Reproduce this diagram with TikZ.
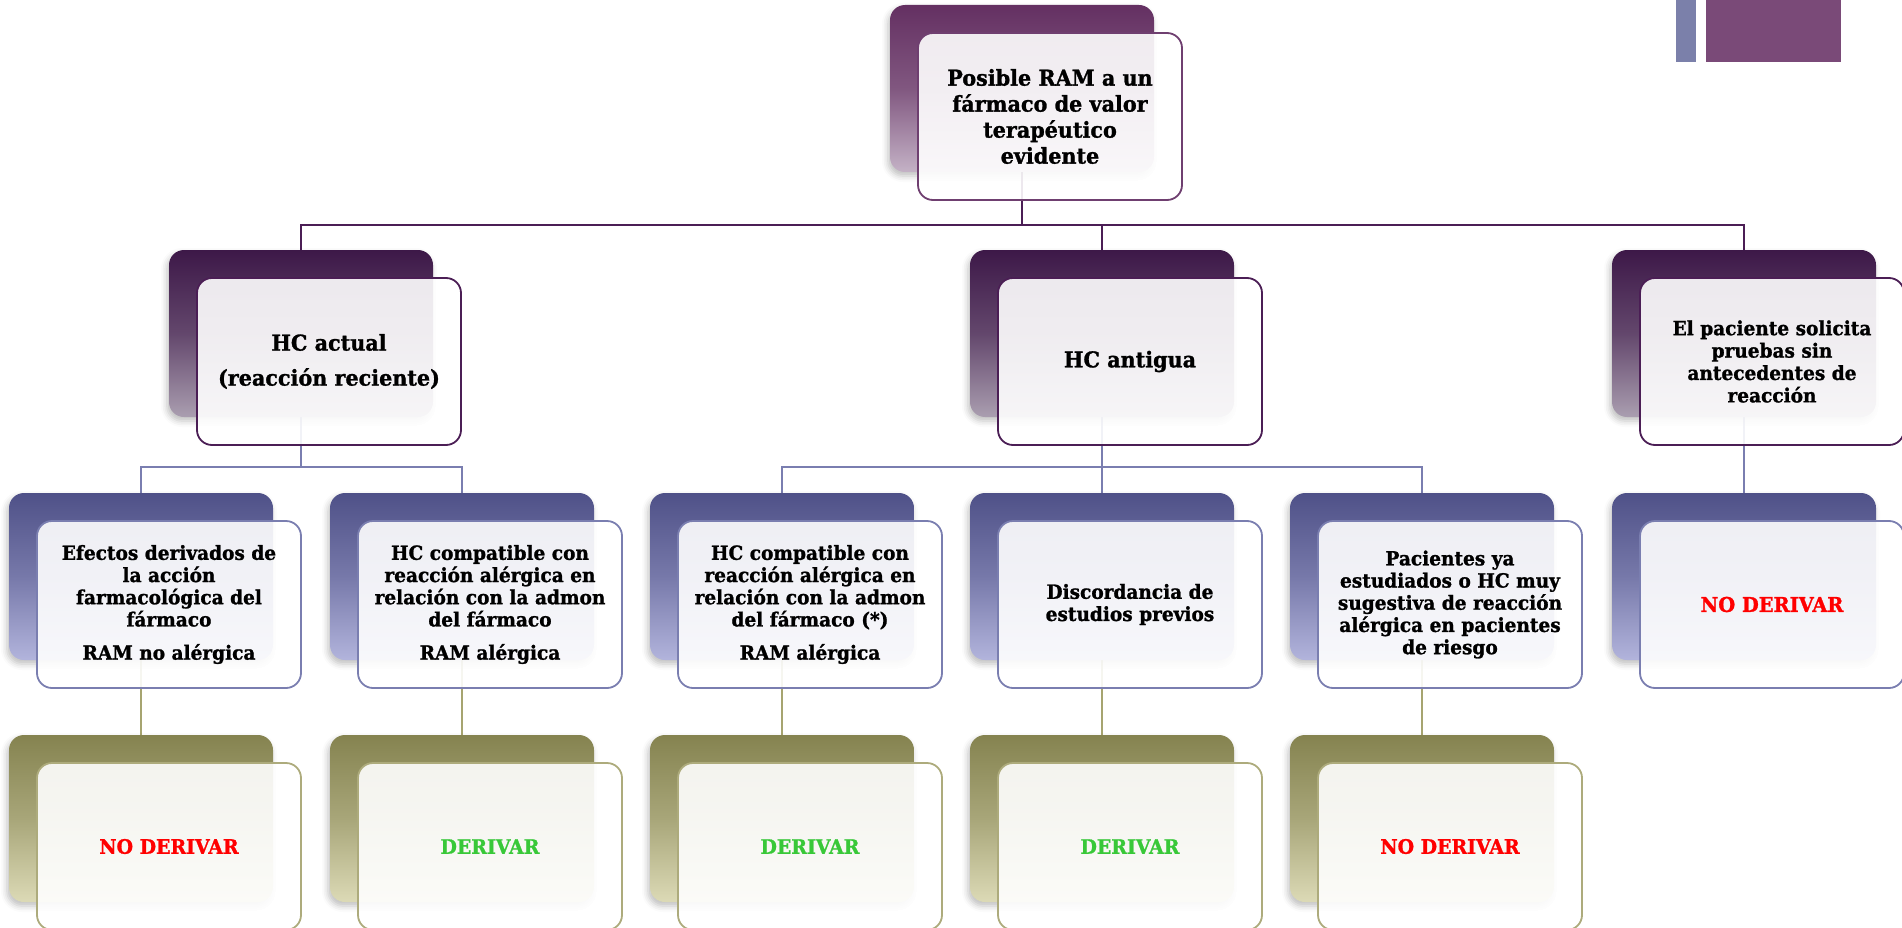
\documentclass[tikz,border=0pt]{standalone}
\usepackage{fontspec}
\setmainfont{DejaVu Serif}[FakeStretch=0.95, BoldFeatures={FakeBold=1.2}]
\usetikzlibrary{shadows.blur}

\definecolor{rootTop}{HTML}{643062}
\definecolor{rootBot}{HTML}{C4B2C6}
\definecolor{rootLine}{HTML}{6F3F70}
\definecolor{twoTop}{HTML}{3D1848}
\definecolor{twoBot}{HTML}{AA9EB0}
\definecolor{twoLine}{HTML}{4B1E55}
\definecolor{threeTop}{HTML}{4F5188}
\definecolor{threeBot}{HTML}{B2B4DC}
\definecolor{threeLine}{HTML}{7A7EB0}
\definecolor{fourTop}{HTML}{858350}
\definecolor{fourBot}{HTML}{DCDAB6}
\definecolor{fourLine}{HTML}{ADAB7C}
\definecolor{fourLink}{HTML}{A6A470}
\definecolor{noRed}{HTML}{FF0000}
\definecolor{yesGreen}{HTML}{38C838}
\definecolor{tabBlue}{HTML}{7B80AA}
\definecolor{tabPurple}{HTML}{7A4A78}

\pgfdeclarelayer{bg}
\pgfsetlayers{bg,main}

\tikzset{
  cardbase/.style={rectangle, rounded corners=15pt, minimum width=264pt,
    minimum height=167pt, inner sep=0pt, outer sep=0pt, anchor=north west},
  backbox/.style={cardbase, draw=none,
    blur shadow={shadow xshift=-2pt, shadow yshift=-4pt,
      shadow blur radius=6pt, shadow opacity=25}},
  back1/.style={backbox, top color=rootTop, bottom color=rootBot, middle color=rootTop!70!rootBot},
  back2/.style={backbox, top color=twoTop, bottom color=twoBot, middle color=twoTop!65!twoBot},
  back3/.style={backbox, top color=threeTop, bottom color=threeBot, middle color=threeTop!60!threeBot},
  back4/.style={backbox, top color=fourTop, bottom color=fourBot, middle color=fourTop!60!fourBot},
  frontbox/.style={cardbase, fill=white, fill opacity=0.9, text opacity=1,
    line width=1.8pt, align=center, text width=256pt},
  front1/.style={frontbox, draw=rootLine,
    font=\fontsize{21.8pt}{26pt}\selectfont\bfseries},
  front2/.style={frontbox, draw=twoLine,
    font=\fontsize{19.5pt}{22.4pt}\selectfont\bfseries},
  front3/.style={frontbox, draw=threeLine,
    font=\fontsize{19.5pt}{22.2pt}\selectfont\bfseries},
  front4/.style={frontbox, draw=fourLine,
    font=\fontsize{19.9pt}{22pt}\selectfont\bfseries},
  bigger/.style={font=\fontsize{21.8pt}{24pt}\selectfont\bfseries},
  verdict/.style={font=\fontsize{20.4pt}{22pt}\selectfont\bfseries},
  link1/.style={draw=twoLine, line width=1.8pt},
  link2/.style={draw=threeLine, line width=1.8pt},
  link3/.style={draw=fourLink, line width=1.8pt},
}

% [#1 extra keys] #2 name, #3/#4 top-left corner of the front card, #5 level, #6 text;
% the shaded card behind sits 28pt up and to the left and is named <name>-b
\newcommand\card[6][]{%
  \node[back#5] (#2-b) at (#3-28,#4-28) {};
  \node[front#5,#1] (#2) at (#3,#4) {#6};
}

\begin{document}
\begin{tikzpicture}[x=1pt,y=-1pt]
\useasboundingbox (0,0) rectangle (1902,928);
\clip (0,0) rectangle (1902,928);

% corner tabs
\fill[tabBlue] (1676,0) rectangle (1696,62);
\fill[tabPurple] (1706,0) rectangle (1841,62);

% level 1
\card{root}{918}{33}{1}{Posible RAM a un\\ fármaco de valor\\ terapéutico\\ evidente}

% level 2
\card[bigger]{actual}{197}{278}{2}{HC actual\\[11pt] (reacción reciente)}
\card[bigger]{antigua}{998}{278}{2}{HC antigua}
\card{solicita}{1640}{278}{2}{El paciente solicita\\ pruebas sin\\ antecedentes de\\ reacción}

% level 3
\card{efectos}{37}{521}{3}{Efectos derivados de\\ la acción\\ farmacológica del\\ fármaco\\[11pt] RAM no alérgica}
\card{compatA}{358}{521}{3}{HC compatible con\\ reacción alérgica en\\ relación con la admon\\ del fármaco\\[11pt] RAM alérgica}
\card{compatB}{678}{521}{3}{HC compatible con\\ reacción alérgica en\\ relación con la admon\\ del fármaco (*)\\[11pt] RAM alérgica}
\card{discord}{998}{521}{3}{Discordancia de\\ estudios previos}
\card{estudiados}{1318}{521}{3}{Pacientes ya\\ estudiados o HC muy\\ sugestiva de reacción\\ alérgica en pacientes\\ de riesgo}
\card[verdict]{noderC}{1640}{521}{3}{\textcolor{noRed}{NO DERIVAR}}

% level 4
\card{resA}{37}{763}{4}{\textcolor{noRed}{NO DERIVAR}}
\card{resB}{358}{763}{4}{\textcolor{yesGreen}{DERIVAR}}
\card{resC}{678}{763}{4}{\textcolor{yesGreen}{DERIVAR}}
\card{resD}{998}{763}{4}{\textcolor{yesGreen}{DERIVAR}}
\card{resE}{1318}{763}{4}{\textcolor{noRed}{NO DERIVAR}}

% bus heights
\coordinate (busA) at (0,225);
\coordinate (busB) at (0,467);

\begin{pgfonlayer}{bg}
  \foreach \child in {actual,antigua,solicita}
    \draw[link1] (root-b.south) -- (root-b.south |- busA) -| (\child-b.north);
  \foreach \child in {efectos,compatA}
    \draw[link2] (actual-b.south) -- (actual-b.south |- busB) -| (\child-b.north);
  \foreach \child in {compatB,discord,estudiados}
    \draw[link2] (antigua-b.south) -- (antigua-b.south |- busB) -| (\child-b.north);
  \draw[link2] (solicita-b.south) -- (noderC-b.north);
  \draw[link3] (efectos-b.south) -- (resA-b.north);
  \draw[link3] (compatA-b.south) -- (resB-b.north);
  \draw[link3] (compatB-b.south) -- (resC-b.north);
  \draw[link3] (discord-b.south) -- (resD-b.north);
  \draw[link3] (estudiados-b.south) -- (resE-b.north);
\end{pgfonlayer}
\end{tikzpicture}
\end{document}
